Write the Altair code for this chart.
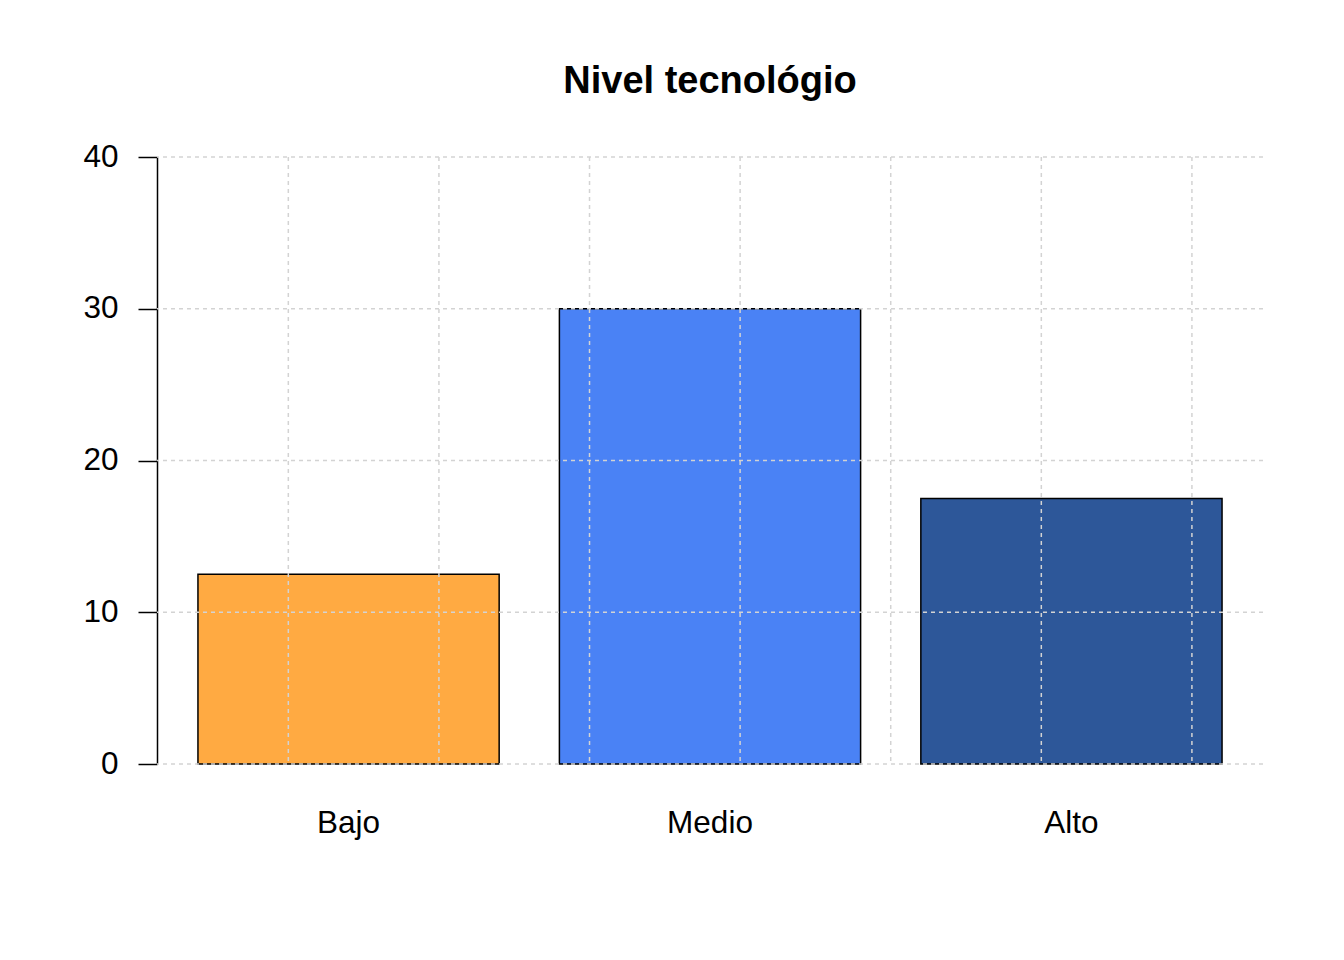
import altair as alt
import pandas as pd

categories = ["Bajo", "Medio", "Alto"]
values = [12.5, 30, 17.5]
colors = ["#FFAA42", "#4A82F5", "#2D5799"]
y_ticks = [0, 10, 20, 30, 40]
x_grid = [0.5, 1.0, 1.5, 2.0, 2.5, 3.0, 3.5]

df = pd.DataFrame({"cat": categories, "val": values})
gx = pd.DataFrame({"gx": x_grid})
gy = pd.DataFrame({"gy": y_ticks})

W, H = 1106, 607
FONT = "Liberation Sans"

bars = alt.Chart(df).mark_bar(stroke="black", strokeWidth=1.5).encode(
    x=alt.X("cat:N", sort=categories,
            scale=alt.Scale(paddingInner=1/6, paddingOuter=0.1133),
            axis=alt.Axis(title=None, domain=False, ticks=False, labelAngle=0,
                          labelPadding=43, labelFontSize=31.5, labelFont=FONT,
                          labelColor="black")),
    y=alt.Y("val:Q", scale=alt.Scale(domain=[0, 40], nice=False, zero=True),
            axis=alt.Axis(values=y_ticks, title=None, grid=False,
                          domainColor="black", domainWidth=1.5,
                          tickColor="black", tickWidth=1.5, tickSize=19,
                          labelPadding=20, labelFontSize=31.5, labelFont=FONT,
                          labelColor="black")),
    color=alt.Color("cat:N", scale=alt.Scale(domain=categories, range=colors), legend=None),
)

vgrid = alt.Chart(gx).mark_rule(color="#D3D3D3", strokeWidth=1.5, strokeDash=[4, 4]).encode(
    x=alt.X("gx:Q", scale=alt.Scale(domain=[0.064, 3.736], nice=False, zero=False), axis=None)
)

hgrid = alt.Chart(gy).mark_rule(color="#D3D3D3", strokeWidth=1.5, strokeDash=[4, 4]).encode(
    y=alt.Y("gy:Q", scale=alt.Scale(domain=[0, 40], nice=False, zero=True))
)

chart = alt.layer(bars, vgrid, hgrid).resolve_scale(x="independent").properties(
    width=W, height=H,
    background="white",
    title=alt.Title("Nivel tecnológio", font=FONT, fontSize=38, fontWeight="bold",
                    color="black", anchor="middle", frame="group",
                    baseline="alphabetic", offset=10),
    autosize=alt.AutoSizeParams(type="none"),
    padding={"left": 149, "top": 149, "right": 73, "bottom": 180},
).configure_view(stroke=None, strokeWidth=0)

chart.save("out.html", embed_options={"renderer": "svg", "actions": False})
